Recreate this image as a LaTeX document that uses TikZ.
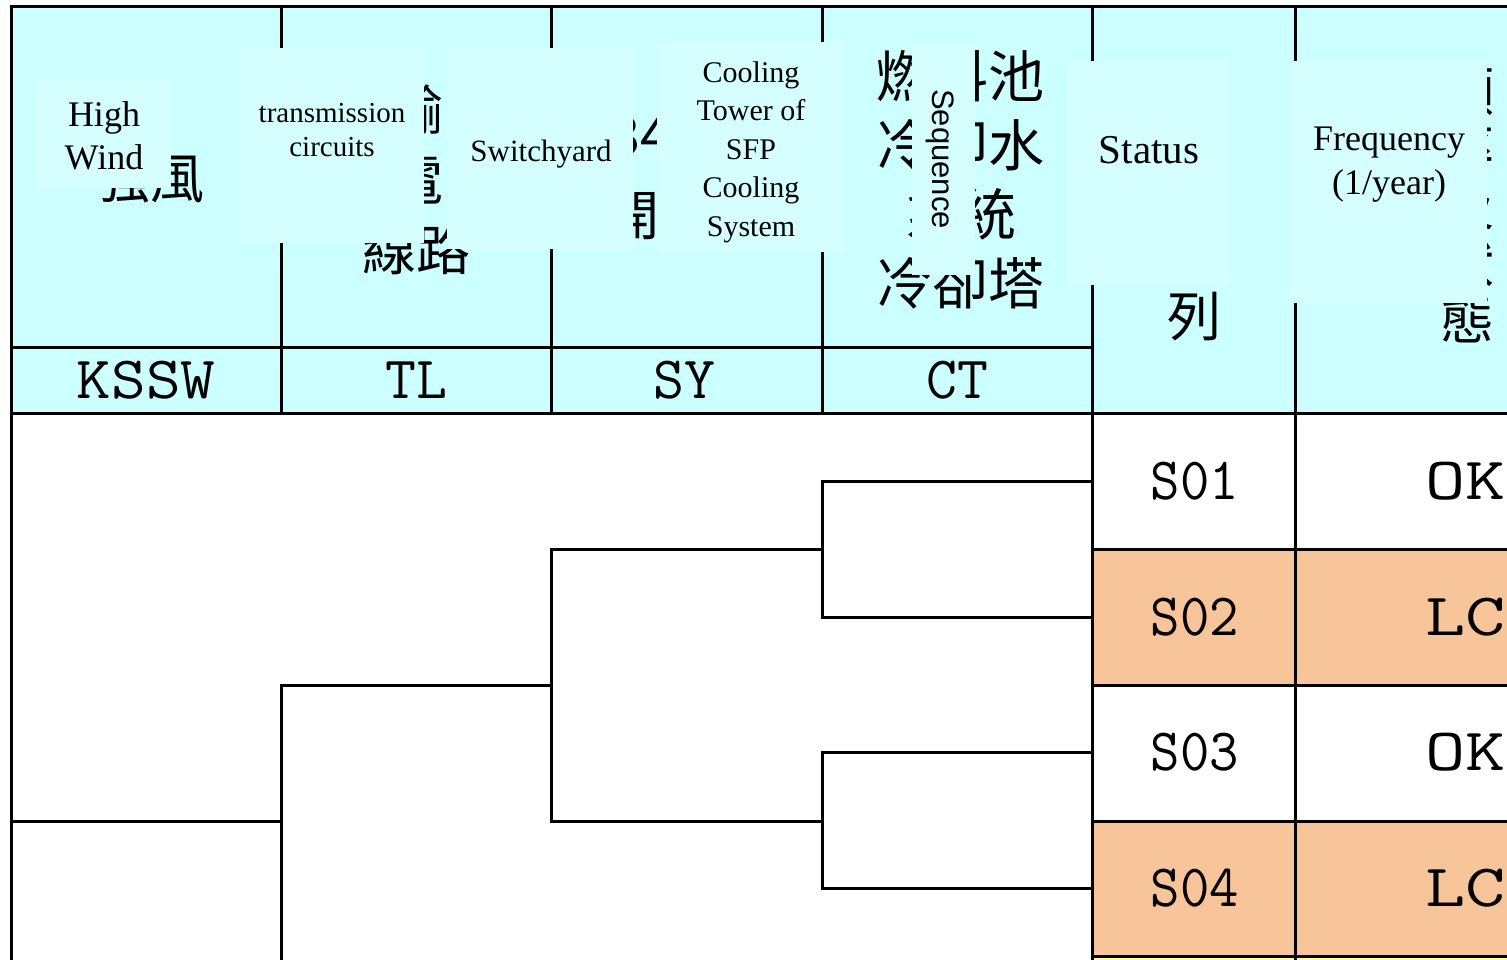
\documentclass[tikz,border=0pt]{standalone}
\usepackage{fontspec}
\setmainfont{Liberation Serif}
\newfontfamily\cjk{Noto Sans CJK TC}
\newfontfamily\arialf{Liberation Sans}
\definecolor{hdr}{RGB}{204,255,255}
\definecolor{ovl}{RGB}{213,255,255}
\definecolor{orng}{RGB}{248,196,153}
\definecolor{ylw}{RGB}{255,255,153}
\tikzset{
  grid/.style={line width=3pt, line cap=rect},
  tree/.style={line width=3pt, line cap=rect},
  ovlbox/.style={fill=ovl},
  zh/.style={inner sep=0pt, align=center, font=\cjk\fontsize{54}{70}\selectfont},
  en/.style={inner sep=0pt, align=center},
  mono/.style={inner sep=0pt, font=\ttfamily\fontsize{60}{60}\selectfont}
}
\begin{document}
\begin{tikzpicture}[x=1pt,y=-1pt]
\useasboundingbox (0,0) rectangle (1507,960);
\clip (0,0) rectangle (1507,960);
% fills
\fill[white] (0,0) rectangle (1507,960);
\fill[hdr] (11,7) rectangle (1520,413);
\fill[orng] (1092,549) rectangle (1520,685);
\fill[orng] (1092,821) rectangle (1520,956);
\fill[ylw] (1092,956) rectangle (1520,990);
% Chinese header texts (partly hidden)
\node[zh] (zh1) at (150,178) {強風};
\node[zh] (zh2) at (416,180) {輸\\電\\線路};
\node[zh, font=\cjk\fontsize{54}{80}\selectfont] (zh3) at (686,176) {345kV\\開關場};
\node[zh, font=\cjk\fontsize{56}{69}\selectfont] (zh4) at (960,180) {燃料池\\冷卻水\\系統\\冷卻塔};
\node[zh, font=\cjk\fontsize{54}{69}\selectfont] (zh5) at (1194,281) {序\\列};
\node[zh, font=\cjk\fontsize{54}{57}\selectfont] (zh6) at (1467,205) {頻\\率\\及\\狀\\態};
% header grid
\draw[grid] (11,7) -- (1520,7);
\draw[grid] (11,7) -- (11,990);
\foreach \x in {281,551,822} \draw[grid] (\x,7) -- (\x,413);
\foreach \x in {1092,1295} \draw[grid] (\x,7) -- (\x,990);
\draw[grid] (11,347) -- (1092,347);
\draw[grid] (11,413) -- (1520,413);
\foreach \y in {549,685,821,956} \draw[grid] (1092,\y) -- (1520,\y);
% overlay boxes
\fill[ovlbox] (36,80) rectangle (171,188);
\fill[ovlbox] (240,48) rectangle (424,243);
\fill[ovlbox] (447,48) rectangle (633,249);
\fill[ovlbox] (657,42) rectangle (843,252);
\fill[ovlbox] (912,43) rectangle (975,275);
\fill[ovlbox] (1067,61) rectangle (1230,285);
\fill[ovlbox] (1290,61) rectangle (1487,303);
% English texts
\node[en, font=\fontsize{36}{43}\selectfont] (hw) at (104,136) {High\\Wind};
\node[en, font=\fontsize{29}{34}\selectfont] (tc) at (332,130) {transmission\\circuits};
\node[en, font=\fontsize{31}{36}\selectfont] (sw) at (541,154) {Switchyard};
\node[en, font=\fontsize{30}{38.5}\selectfont] (ct) at (751,152) {Cooling\\Tower of\\SFP\\Cooling\\System};
\node[en, font=\arialf\fontsize{31}{36}\selectfont, rotate=-90] (sq) at (940,159) {Sequence};
\node[en, font=\fontsize{41}{46}\selectfont] (st) at (1149,150) {Status};
\node[en, font=\fontsize{36}{44}\selectfont] (fq) at (1389,165) {Frequency\\(1/year)};
% codes
\node[mono, xscale=1.12] (kssw) at (146,380) {KSSW};
\node[mono] (tl) at (416,380) {TL};
\node[mono] (sy) at (684,380) {SY};
\node[mono] (ctc) at (957,380) {CT};
\node[mono, xscale=0.95] (s1) at (1195,481) {S01};
\node[mono, xscale=0.95] (s2) at (1195,617) {S02};
\node[mono, xscale=0.95] (s3) at (1195,752) {S03};
\node[mono, xscale=0.95] (s4) at (1195,888) {S04};
\node[mono, anchor=west, xscale=1.3] (r1) at (1425,481) {OK};
\node[mono, anchor=west, xscale=1.3] (r2) at (1425,617) {LC};
\node[mono, anchor=west, xscale=1.3] (r3) at (1425,752) {OK};
\node[mono, anchor=west, xscale=1.3] (r4) at (1425,888) {LC};
% event tree
\coordinate (ie) at (11,821);
\coordinate (b1) at (281,821);
\coordinate (b1u) at (281,685);
\coordinate (b1d) at (281,990);
\coordinate (b2) at (551,685);
\coordinate (b2u) at (551,549);
\coordinate (b2d) at (551,821);
\coordinate (b3u) at (822,549);
\coordinate (b3d) at (822,821);
\coordinate (c1) at (822,481);
\coordinate (c2) at (822,617);
\coordinate (c3) at (822,752);
\coordinate (c4) at (822,888);
\coordinate (e1) at (1092,481);
\coordinate (e2) at (1092,617);
\coordinate (e3) at (1092,752);
\coordinate (e4) at (1092,888);
\draw[tree] (ie) -- (b1);
\draw[tree] (b1u) -- (b1d);
\draw[tree] (b1u) -- (b2);
\draw[tree] (b2u) -- (b2d);
\draw[tree] (b2u) -- (b3u);
\draw[tree] (b2d) -- (b3d);
\draw[tree] (c1) -- (c2);
\draw[tree] (c3) -- (c4);
\draw[tree] (c1) -- (e1);
\draw[tree] (c2) -- (e2);
\draw[tree] (c3) -- (e3);
\draw[tree] (c4) -- (e4);
\end{tikzpicture}
\end{document}
